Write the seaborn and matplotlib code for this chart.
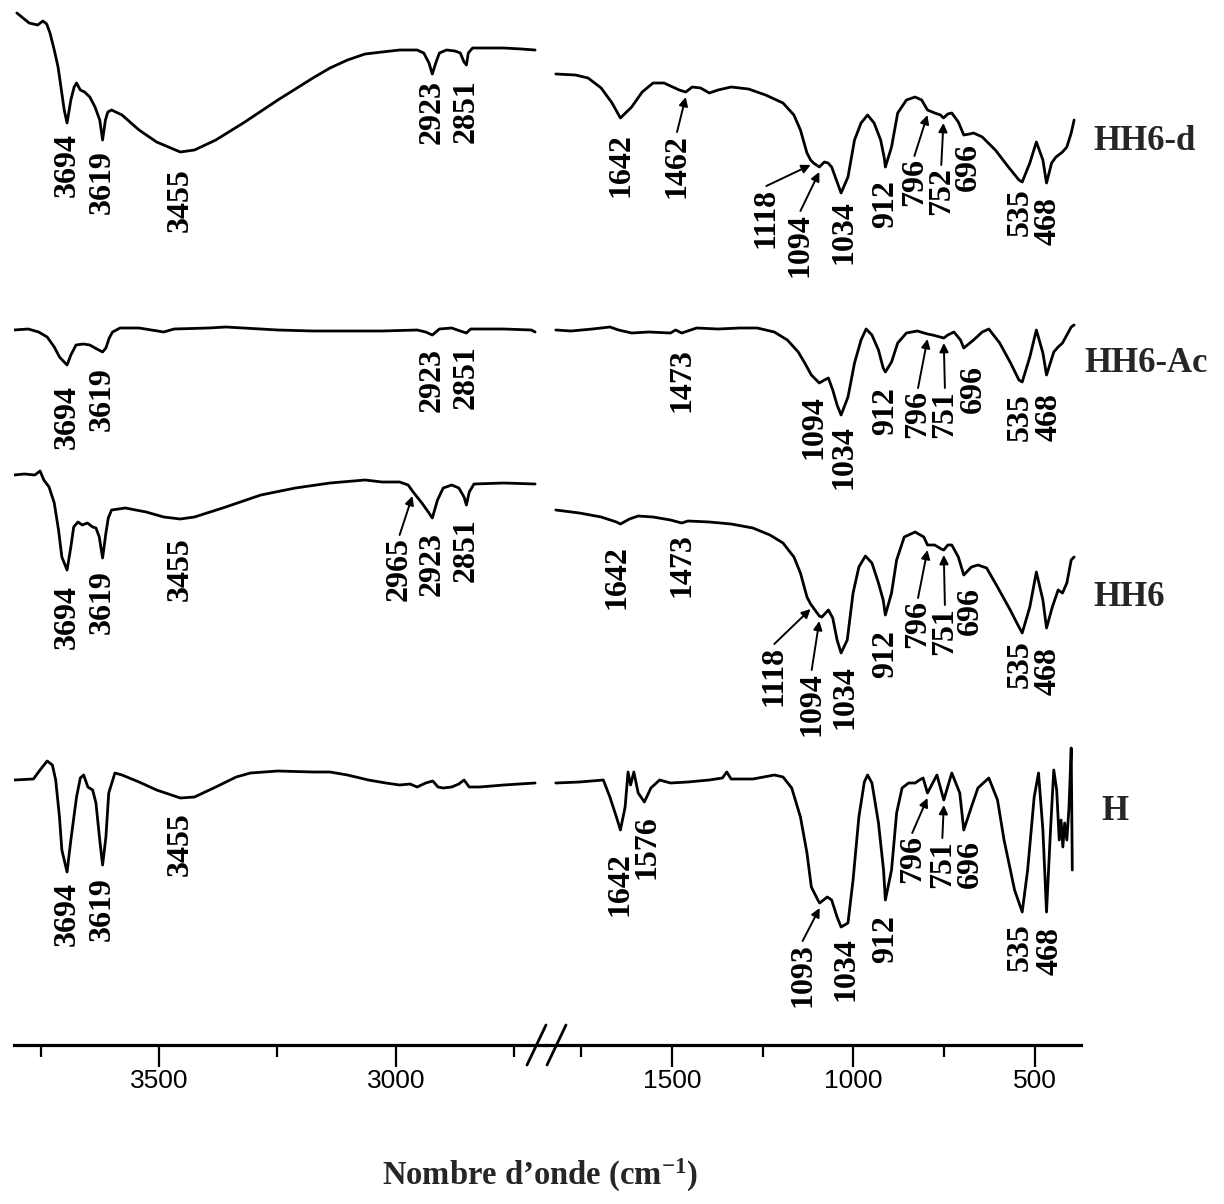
import numpy as np
import pandas as pd
import matplotlib
matplotlib.use("Agg")
import matplotlib.pyplot as plt
from matplotlib.lines import Line2D
import seaborn as sns

sns.set_theme(style="white")
plt.rcParams["font.family"] = ["Liberation Serif", "DejaVu Serif"]
plt.rcParams["mathtext.fontset"] = "custom"
plt.rcParams["mathtext.rm"] = "Liberation Serif:bold"
plt.rcParams["mathtext.bf"] = "Liberation Serif:bold"
plt.rcParams["mathtext.it"] = "Liberation Serif:bold"

# ---------------------------------------------------------------------------
# FTIR spectra (transmittance, arbitrary units) in two wavenumber windows
# ---------------------------------------------------------------------------
samples = ["HH6-d", "HH6-Ac", "HH6", "H"]

hh6d_hi_wn = [3800, 3774, 3756, 3745, 3737, 3730, 3721, 3713, 3706, 3700, 3694, 3686, 3679, 3674,
              3666, 3657, 3646, 3635, 3625, 3619, 3613, 3608, 3600, 3578, 3542, 3505, 3455, 3425,
              3380, 3322, 3249, 3175, 3139, 3102, 3065, 3029, 2992, 2955, 2941, 2930, 2923, 2915,
              2908, 2893, 2875, 2864, 2856, 2851, 2847, 2838, 2809, 2772, 2735, 2706]
hh6d_hi_t = [187, 177, 175, 179, 176, 167, 150, 133, 110, 90, 77, 100, 113, 117,
             110, 108, 103, 93, 80, 60, 80, 88, 90, 85, 70, 58, 48, 50,
             60, 77, 100, 122, 132, 140, 146, 148, 150, 150, 147, 137, 126, 138,
             147, 150, 149, 147, 138, 135, 147, 152, 152, 152, 151, 150]
hh6d_lo_wn = [1820, 1766, 1731, 1695, 1665, 1642, 1611, 1582, 1552, 1522, 1498, 1480, 1462, 1444,
              1421, 1397, 1373, 1337, 1289, 1242, 1194, 1164, 1146, 1128, 1118, 1110, 1094, 1080,
              1070, 1060, 1045, 1034, 1015, 997, 979, 961, 943, 925, 915, 912, 895, 878, 854, 830,
              812, 796, 776, 760, 752, 740, 729, 711, 696, 680, 669, 645, 609, 573, 544, 535, 514,
              496, 478, 468, 454, 442, 424, 412, 400, 392]
hh6d_lo_t = [126, 125, 122, 112, 97, 82, 93, 108, 117, 117, 113, 110, 108, 113,
             112, 107, 110, 113, 111, 105, 97, 85, 70, 47, 40, 37, 33, 38,
             37, 33, 18, 7, 23, 60, 77, 85, 77, 60, 42, 33, 53, 87, 100, 103,
             100, 90, 87, 85, 82, 86, 87, 78, 65, 66, 67, 63, 50, 33, 20, 18, 37,
             58, 40, 17, 37, 43, 48, 53, 67, 80]

hh6ac_hi_wn = [3806, 3776, 3754, 3736, 3721, 3710, 3694, 3686, 3675, 3660, 3646, 3635, 3619, 3612,
               3605, 3598, 3582, 3542, 3490, 3468, 3395, 3359, 3322, 3249, 3175, 3102, 3029, 2955,
               2937, 2923, 2908, 2882, 2864, 2851, 2842, 2772, 2714, 2706]
hh6ac_hi_t = [90, 91, 88, 83, 73, 63, 55, 65, 75, 76, 75, 72, 68, 72,
              82, 88, 92, 92, 88, 91, 92, 93, 92, 90, 89, 89, 89, 90,
              88, 85, 91, 92, 89, 87, 91, 91, 90, 88]
hh6ac_lo_wn = [1820, 1778, 1719, 1671, 1647, 1611, 1564, 1504, 1490, 1473, 1432, 1373, 1313, 1265,
               1218, 1182, 1152, 1134, 1116, 1094, 1080, 1069, 1057, 1045, 1034, 1015, 997, 979,
               965, 949, 931, 918, 912, 895, 878, 854, 824, 796, 782, 751, 740, 723, 705, 696,
               669, 645, 627, 597, 567, 544, 535, 514, 496, 478, 468, 448, 436, 424, 412, 400, 392]
hh6ac_lo_t = [90, 89, 91, 93, 90, 87, 88, 87, 90, 87, 92, 91, 92, 92,
              88, 80, 68, 57, 45, 37, 40, 42, 30, 15, 5, 23, 57, 80,
              91, 85, 70, 52, 48, 58, 77, 87, 89, 86, 85, 82, 85, 88, 80, 72,
              80, 88, 91, 77, 57, 40, 38, 63, 90, 67, 45, 68, 73, 77, 85, 93, 95]

hh6_hi_wn = [3806, 3784, 3762, 3751, 3743, 3732, 3721, 3712, 3705, 3694, 3686, 3680, 3671, 3662,
             3651, 3640, 3633, 3626, 3619, 3612, 3607, 3600, 3571, 3527, 3490, 3455, 3425, 3359,
             3285, 3212, 3139, 3065, 3029, 2992, 2974, 2965, 2945, 2930, 2923, 2912, 2900, 2882,
             2867, 2856, 2851, 2845, 2835, 2772, 2706]
hh6_hi_t = [185, 186, 185, 189, 180, 173, 157, 130, 103, 90, 113, 133, 138, 135,
            137, 133, 132, 123, 102, 127, 142, 150, 152, 148, 143, 141, 143, 153,
            165, 172, 177, 180, 178, 178, 175, 169, 157, 147, 142, 160, 172, 175,
            172, 163, 155, 168, 176, 177, 176]
hh6_lo_wn = [1820, 1755, 1695, 1653, 1642, 1617, 1593, 1552, 1504, 1473, 1456, 1397, 1337, 1277,
             1230, 1194, 1164, 1146, 1128, 1118, 1110, 1094, 1087, 1069, 1057, 1045, 1034, 1017,
             1001, 985, 967, 949, 931, 918, 912, 895, 881, 860, 830, 806, 796, 776, 758, 751,
             740, 729, 711, 696, 675, 657, 633, 603, 568, 544, 535, 514, 496, 478, 468, 452,
             436, 424, 412, 400, 392]
hh6_lo_t = [150, 147, 143, 138, 136, 141, 144, 143, 140, 137, 139, 138, 136, 132,
            125, 117, 103, 87, 63, 56, 52, 44, 43, 50, 42, 20, 7, 20,
            67, 93, 104, 97, 77, 60, 45, 67, 100, 123, 128, 123, 115, 115, 111, 110,
            115, 115, 103, 85, 93, 95, 92, 73, 50, 33, 27, 53, 88, 60, 32, 53,
            70, 67, 77, 100, 103]

h_hi_wn = [3806, 3765, 3751, 3736, 3725, 3718, 3710, 3705, 3694, 3686, 3674, 3666, 3659, 3650,
           3640, 3633, 3625, 3619, 3612, 3606, 3593, 3578, 3542, 3505, 3455, 3425, 3380, 3337,
           3307, 3249, 3175, 3139, 3102, 3058, 3021, 2992, 2970, 2955, 2937, 2922, 2911, 2900,
           2882, 2867, 2856, 2845, 2823, 2772, 2706]
h_hi_t = [150, 151, 160, 169, 165, 150, 113, 80, 58, 90, 133, 152, 155, 143,
          140, 127, 90, 65, 93, 137, 157, 155, 148, 140, 132, 133, 143, 153,
          157, 159, 158, 158, 155, 150, 147, 145, 146, 143, 147, 149, 143, 142,
          143, 146, 150, 143, 143, 145, 147]
h_lo_wn = [1820, 1755, 1689, 1671, 1653, 1642, 1629, 1621, 1614, 1605, 1593, 1576, 1558, 1534,
           1504, 1456, 1397, 1361, 1349, 1337, 1277, 1218, 1194, 1170, 1146, 1128, 1116, 1098,
           1093, 1072, 1060, 1045, 1034, 1015, 1001, 985, 970, 961, 949, 931, 917, 912, 895, 881,
           866, 848, 830, 818, 808, 796, 770, 751, 729, 707, 696, 675, 657, 627, 603, 585, 556,
           535, 520, 502, 490, 478, 468, 457, 448, 440, 433, 428, 423, 418, 412, 406, 400, 397]
h_lo_t = [147, 148, 150, 133, 113, 100, 123, 158, 145, 158, 137, 128, 142, 150,
          147, 148, 150, 152, 158, 151, 151, 155, 153, 142, 113, 77, 43, 30,
          27, 33, 30, 13, 3, 7, 50, 113, 148, 155, 147, 107, 60, 30, 60, 117,
          142, 147, 147, 150, 152, 137, 155, 130, 157, 137, 100, 123, 142, 152, 130, 90, 40,
          18, 60, 133, 157, 100, 18, 100, 160, 140, 90, 110, 83, 107, 90, 123, 182, 60]

# band positions (cm-1) marked on each spectrum
hh6d_peaks = [3694, 3619, 3455, 2923, 2851, 1642, 1462, 1118, 1094, 1034, 912, 796, 752, 696, 535, 468]
hh6ac_peaks = [3694, 3619, 2923, 2851, 1473, 1094, 1034, 912, 796, 751, 696, 535, 468]
hh6_peaks = [3694, 3619, 3455, 2965, 2923, 2851, 1642, 1473, 1118, 1094, 1034, 912, 796, 751, 696, 535, 468]
h_peaks = [3694, 3619, 3455, 1642, 1576, 1093, 1034, 912, 796, 751, 696, 535, 468]

# axis ticks of the two wavenumber windows
hi_major_ticks = [3500, 3000]
hi_minor_ticks = [3750, 3250, 2750]
lo_major_ticks = [1500, 1000, 500]
lo_minor_ticks = [1750, 1250, 750]

spectra = {
    "HH6-d": (hh6d_hi_wn, hh6d_hi_t, hh6d_lo_wn, hh6d_lo_t, hh6d_peaks),
    "HH6-Ac": (hh6ac_hi_wn, hh6ac_hi_t, hh6ac_lo_wn, hh6ac_lo_t, hh6ac_peaks),
    "HH6": (hh6_hi_wn, hh6_hi_t, hh6_lo_wn, hh6_lo_t, hh6_peaks),
    "H": (h_hi_wn, h_hi_t, h_lo_wn, h_lo_t, h_peaks),
}

# vertical stacking of the traces
offsets = {"HH6-d": 800, "HH6-Ac": 580, "HH6": 340, "H": 70}

# label placement: band -> (label x, distance below the trace, with arrow)
label_layout = {
    "HH6-d": {3455: (3455, 16, False), 2923: (2923, 6, False), 2851: (2851, 14, False),
              1642: (1640, 15, False), 1462: (1486, 42, True), 1118: (1240, 28, True),
              1094: (1146, 46, True), 1034: (1027, 7, False), 912: (912, 13, False),
              796: (832, 48, True), 752: (758, 49, True), 696: (683, 8, False),
              535: (540, 6, False), 468: (463, 14, False)},
    "HH6-Ac": {3694: (3694, 20, False), 3619: (3619, 15, False), 2923: (2923, 13, False),
               2851: (2851, 12, False), 1473: (1473, 15, False), 1094: (1108, 12, False),
               1034: (1027, 10, False), 912: (912, 15, False), 796: (822, 56, True),
               751: (748, 52, True), 696: (670, 17, False), 535: (540, 11, False),
               468: (460, 18, False)},
    "HH6": {3694: (3694, 15, False), 3619: (3619, 12, False), 3455: (3455, 18, False),
            2965: (2992, 46, True), 2923: (2923, 14, False), 2851: (2851, 13, False),
            1642: (1652, 21, False), 1473: (1473, 10, False), 1118: (1218, 42, True),
            1094: (1115, 56, True), 1034: (1024, 12, False), 912: (912, 15, False),
            796: (822, 55, True), 751: (748, 57, True), 696: (678, 12, False),
            535: (540, 7, False), 468: (463, 19, False)},
    "H": {3694: (3694, 10, False), 3619: (3619, 12, False), 3455: (3455, 14, False),
          1642: (1642, 22, False), 1576: (1570, 13, False), 1093: (1140, 40, True),
          1034: (1020, 10, False), 912: (912, 15, False), 796: (838, 42, True),
          751: (755, 40, True), 696: (679, 10, False), 535: (540, 11, False),
          468: (458, 15, False)},
}
name_pos = {"HH6-d": (340, 858), "HH6-Ac": (365, 636), "HH6": (340, 402), "H": (318, 188)}

# long table for seaborn
rows = []
for s in samples:
    hw, ht, lw_, lt, _ = spectra[s]
    for w, t in zip(hw, ht):
        rows.append((s, "hi", w, t, t + offsets[s]))
    for w, t in zip(lw_, lt):
        rows.append((s, "lo", w, t, t + offsets[s]))
df = pd.DataFrame(rows, columns=["sample", "window", "wavenumber", "T", "y"])

# ---------------------------------------------------------------------------
W, H = 1224, 1204
fig = plt.figure(figsize=(W / 100, H / 100), dpi=100)


def rect(x0, y0, x1, y1):
    return [x0 / W, 1 - y1 / H, (x1 - x0) / W, (y1 - y0) / H]


ax_hi = fig.add_axes(rect(14, 0, 546, 1000))
ax_lo = fig.add_axes(rect(546, 0, 1081, 1000))
rule_hi = fig.add_axes(rect(14, 1035, 546, 1045), sharex=ax_hi)
rule_lo = fig.add_axes(rect(546, 1035, 1081, 1045), sharex=ax_lo)

for ax, win in ((ax_hi, "hi"), (ax_lo, "lo")):
    sns.lineplot(data=df[df["window"] == win], x="wavenumber", y="y", units="sample",
                 estimator=None, color="black", lw=2.0, ax=ax, legend=False)
    ax.set_ylim(0, 1000)
    ax.axis("off")
    ax.patch.set_alpha(0)

ax_hi.set_xlim(3806, 2683)
ax_lo.set_xlim(1847, 373)

label_kw = dict(rotation=90, ha="center", va="top", fontsize=23, fontweight="bold",
                family="Liberation Serif", color="black")
for s in samples:
    hw, ht, lw_, lt, peaks = spectra[s]
    for p in peaks:
        if p > 2000:
            ax, xs, ts = ax_hi, np.array(hw), np.array(ht)
        else:
            ax, xs, ts = ax_lo, np.array(lw_), np.array(lt)
        order = np.argsort(xs)
        yc = np.interp(p, xs[order], ts[order]) + offsets[s]
        lx, drop, arrow = label_layout[s].get(p, (p, 10, False))
        top = yc - drop
        ax.text(lx, top, str(p), clip_on=False, **label_kw)
        if arrow:
            ax.annotate("", xy=(p, yc - 5), xytext=(lx, top + 2),
                        arrowprops=dict(arrowstyle="-|>", color="black", lw=1.4,
                                        mutation_scale=13, shrinkA=0, shrinkB=0))
    nx, ny = name_pos[s]
    ax_lo.text(nx, ny, s, ha="left", va="center", fontsize=25, fontweight="bold",
               family="Liberation Serif", clip_on=False)

for ax, major, minor in ((rule_hi, hi_major_ticks, hi_minor_ticks),
                         (rule_lo, lo_major_ticks, lo_minor_ticks)):
    ax.set_ylim(0, 1)
    ax.patch.set_alpha(0)
    for side in ("left", "right", "top"):
        ax.spines[side].set_visible(False)
    ax.spines["bottom"].set_linewidth(2.3)
    ax.spines["bottom"].set_color("black")
    ax.set_yticks([])
    ax.set_xticks(major)
    ax.set_xticks(minor, minor=True)
    ax.set_xticklabels([str(v) for v in major], family="Liberation Sans", fontsize=19)
    ax.tick_params(axis="x", which="both", bottom=True, direction="out", color="black",
                   width=1.6, pad=2, labelcolor="black")
    ax.tick_params(axis="x", which="major", length=15.5)
    ax.tick_params(axis="x", which="minor", length=8.5)
    ax.set_xlabel("")
    ax.set_ylabel("")

# axis break marks
for x0 in (527, 547):
    fig.add_artist(Line2D([x0 / W, (x0 + 19) / W], [1 - 1065 / H, 1 - 1025 / H],
                          transform=fig.transFigure, color="black", lw=2.0))

fig.text(540 / W, 1 - 1175 / H, "Nombre d\u2019onde (cm$^{-1}$)", ha="center", va="center",
         fontsize=23.5, fontweight="bold", family="Liberation Serif")

fig.savefig("out.png", dpi=100)
